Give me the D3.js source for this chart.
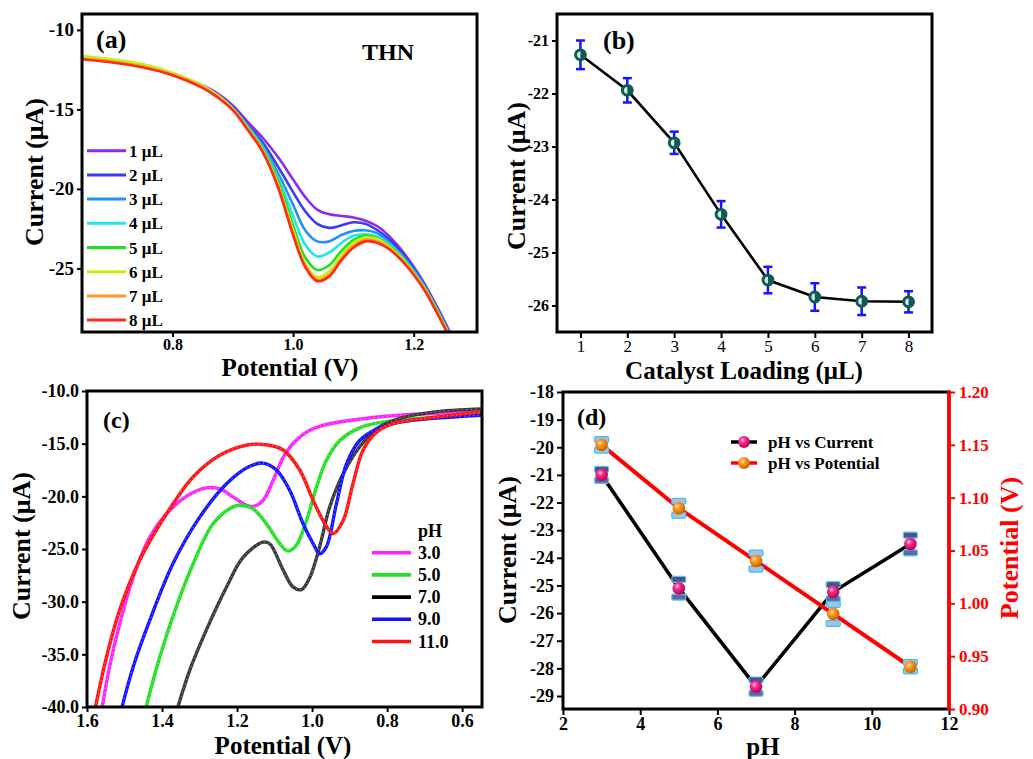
<!DOCTYPE html>
<html><head><meta charset="utf-8">
<script src="https://cdn.jsdelivr.net/npm/d3@7"></script>
<style>
body{margin:0;background:#fff}
svg{display:block}
text{font-family:"Liberation Serif","Times New Roman",serif;}
</style>
</head><body>
<svg id="chart" width="1033" height="759"></svg>
<script>
// ---------- Panel (a): THN, catalyst loading curves ----------
const thnPotential = [0.65,0.70,0.75,0.80,0.85,0.875,0.90,0.925,0.95,0.975,1.00,1.02,1.04,1.06,1.08,1.10,1.12,1.14,1.16,1.18,1.20,1.22,1.24,1.26];
const thn1 = [-11.75,-11.95,-12.25,-12.75,-13.5,-14.0,-14.75,-15.8,-16.8,-18.0,-19.4,-20.5,-21.3,-21.6,-21.7,-21.8,-22.0,-22.35,-23.0,-23.85,-24.9,-26.1,-27.5,-29.0];
const thn2 = [-11.75,-11.95,-12.25,-12.75,-13.55,-14.1,-14.85,-16.0,-17.1,-18.6,-20.2,-21.4,-22.2,-22.45,-22.3,-22.1,-22.2,-22.6,-23.2,-24.0,-25.0,-26.2,-27.6,-29.1];
const thn3 = [-11.75,-11.95,-12.25,-12.75,-13.55,-14.15,-14.9,-16.05,-17.3,-19.0,-21.0,-22.6,-23.3,-23.3,-22.9,-22.65,-22.6,-22.8,-23.4,-24.15,-25.1,-26.25,-27.65,-29.15];
const thn4 = [-11.75,-11.95,-12.25,-12.75,-13.55,-14.15,-14.95,-16.1,-17.4,-19.3,-21.7,-23.5,-24.25,-24.0,-23.4,-22.95,-22.85,-23.0,-23.5,-24.25,-25.2,-26.3,-27.7,-29.2];
const thn5 = [-11.7,-11.9,-12.2,-12.75,-13.55,-14.15,-14.95,-16.15,-17.5,-19.5,-22.3,-24.3,-25.1,-24.8,-23.9,-23.2,-22.95,-23.1,-23.6,-24.3,-25.25,-26.35,-27.75,-29.25];
const thn6 = [-11.65,-11.85,-12.15,-12.7,-13.5,-14.1,-14.95,-16.2,-17.6,-19.7,-22.6,-24.7,-25.55,-25.2,-24.2,-23.4,-23.05,-23.15,-23.65,-24.35,-25.3,-26.4,-27.8,-29.3];
const thn7 = [-11.8,-12.0,-12.3,-12.8,-13.6,-14.2,-15.0,-16.25,-17.65,-19.8,-22.8,-24.8,-25.7,-25.4,-24.4,-23.6,-23.2,-23.3,-23.75,-24.45,-25.35,-26.45,-27.85,-29.35];
const thn8 = [-11.85,-12.05,-12.35,-12.85,-13.65,-14.25,-15.05,-16.3,-17.7,-19.9,-22.9,-24.9,-25.8,-25.5,-24.5,-23.7,-23.3,-23.4,-23.8,-24.5,-25.4,-26.5,-27.9,-29.4];
const loadingLabels = ["1 \u03bcL","2 \u03bcL","3 \u03bcL","4 \u03bcL","5 \u03bcL","6 \u03bcL","7 \u03bcL","8 \u03bcL"];
const loadingColors = ["#8a2cf0","#3b3bf2","#2192f5","#22e6e6","#1ee01e","#c8ee10","#ff9a26","#ff2a1a"];
const aYTicks = [-10,-15,-20,-25];
const aXTicks = [0.8,1.0,1.2];

// ---------- Panel (b): catalyst loading ----------
const loading = [1,2,3,4,5,6,7,8];
const loadingCurrent = [-21.27,-21.94,-22.93,-24.28,-25.52,-25.84,-25.92,-25.93];
const loadingError = [0.27,0.23,0.21,0.25,0.25,0.26,0.26,0.20];
const bYTicks = [-21,-22,-23,-24,-25,-26];

// ---------- Panel (c): pH curves ----------
const ph3Potential = [1.565,1.54,1.513,1.477,1.433,1.388,1.335,1.282,1.246,1.211,1.175,1.157,1.131,1.104,1.077,1.051,1.015,0.98,0.9,0.766,0.548];
const ph3Current = [-41.2,-36.2,-32.1,-27.7,-23.9,-21.65,-20.0,-19.2,-19.3,-20.05,-20.85,-20.95,-20.4,-18.5,-16.3,-15.0,-13.9,-13.35,-12.8,-12.3,-12.0];
const ph5Potential = [1.452,1.406,1.362,1.317,1.264,1.211,1.193,1.157,1.122,1.086,1.064,1.042,1.015,0.988,0.962,0.926,0.873,0.811,0.677,0.548];
const ph5Current = [-41.3,-35.25,-30.5,-26.4,-22.6,-21.0,-20.85,-21.2,-22.6,-24.5,-25.2,-24.65,-22.3,-19.1,-16.6,-14.7,-13.5,-12.95,-12.5,-12.2];
const ph7Potential = [1.367,1.326,1.282,1.228,1.184,1.131,1.113,1.077,1.051,1.028,1.006,0.98,0.953,0.917,0.873,0.828,0.766,0.677,0.548];
const ph7Current = [-41.1,-36.5,-32.7,-28.6,-25.8,-24.35,-24.5,-27.0,-28.6,-28.85,-27.7,-24.8,-21.0,-17.85,-15.3,-13.6,-12.6,-12.0,-11.7];
const ph9Potential = [1.516,1.477,1.433,1.371,1.3,1.228,1.166,1.131,1.095,1.06,1.024,0.997,0.98,0.962,0.935,0.908,0.873,0.828,0.766,0.548];
const ph9Current = [-41.3,-36.2,-31.8,-26.4,-22.0,-18.8,-17.15,-16.85,-17.5,-19.4,-22.6,-24.5,-25.45,-24.8,-20.7,-16.9,-14.7,-13.6,-12.95,-12.3];
const ph11Potential = [1.585,1.548,1.513,1.46,1.388,1.317,1.246,1.175,1.122,1.077,1.033,0.997,0.966,0.944,0.917,0.891,0.864,0.828,0.784,0.677,0.548];
const ph11Current = [-41.3,-35.25,-30.8,-26.1,-21.65,-18.15,-16.1,-15.15,-15.1,-15.6,-17.5,-20.4,-22.6,-23.55,-22.3,-18.8,-15.6,-13.9,-13.1,-12.5,-12.0];
const phLabels = ["3.0","5.0","7.0","9.0","11.0"];
const phColors = ["#ff22ff","#22e022","#222222","#1414ff","#ff1414"];
const cYTicks = [-10,-15,-20,-25,-30,-35,-40];
const cXTicks = [1.6,1.4,1.2,1.0,0.8,0.6];

// ---------- Panel (d): pH dependence ----------
const phValues = [3,5,7,9,11];
const phPeakCurrent = [-21.0,-25.1,-28.66,-25.23,-23.5];
const phCurrentError = [0.2,0.32,0.24,0.26,0.32];
const phPeakPotential = [1.150,1.090,1.040,0.990,0.940];
const phPotentialError = [0.005,0.0066,0.0076,0.009,0.004];
const dYTicks = [-18,-19,-20,-21,-22,-23,-24,-25,-26,-27,-28,-29];
const dY2Ticks = [0.90,0.95,1.00,1.05,1.10,1.15,1.20];
const dXTicks = [2,4,6,8,10,12];

// ---------- helpers ----------
const svg = d3.select("#chart");
const defs = svg.append("defs");
const hy = f => d => d3.format(f)(d).replace("\u2212","-");

function addClip(id, b){
  defs.append("clipPath").attr("id",id).append("rect")
    .attr("x",b.l).attr("y",b.t).attr("width",b.r-b.l).attr("height",b.b-b.t);
}
function frame(b){
  svg.append("rect").attr("x",b.l).attr("y",b.t).attr("width",b.r-b.l).attr("height",b.b-b.t)
    .attr("fill","none").attr("stroke","#000").attr("stroke-width",3);
}
function styleAxis(g, size, bold, color){
  g.select(".domain").remove();
  g.selectAll(".tick line").attr("stroke",color||"#000").attr("stroke-width",2);
  g.selectAll(".tick text").attr("fill",color||"#000").attr("font-size",size)
    .attr("font-weight",bold?"bold":"normal")
    .attr("font-family","'Liberation Serif','Times New Roman',serif");
}
function title(txt, x, y, size, rot, color){
  const t = svg.append("text").attr("font-size",size).attr("font-weight","bold")
    .attr("fill",color||"#000").attr("text-anchor","middle").text(txt);
  if(rot){ t.attr("transform",`translate(${x},${y}) rotate(-90)`).attr("dy","0.32em"); }
  else { t.attr("x",x).attr("y",y); }
  return t;
}
const curve = d3.curveCatmullRom.alpha(0.5);

// ================= Panel (a) =================
{
  const b = {l:82,r:477,t:14,b:332};
  const x = d3.scaleLinear().domain([0.65,1.305]).range([b.l,b.r]);
  const y = d3.scaleLinear().domain([-29,-9]).range([b.b,b.t]);
  addClip("clipA",b);
  const series = [thn1,thn2,thn3,thn4,thn5,thn6,thn7,thn8];
  const line = d3.line().x(d=>x(d[0])).y(d=>y(d[1])).curve(curve);
  const g = svg.append("g").attr("clip-path","url(#clipA)");
  series.forEach((s,i)=>{
    g.append("path").datum(thnPotential.map((p,j)=>[p,s[j]]))
      .attr("d",line).attr("fill","none").attr("stroke",loadingColors[i]).attr("stroke-width",2.6);
  });
  styleAxis(svg.append("g").attr("transform",`translate(${b.l},0)`)
    .call(d3.axisLeft(y).tickValues(aYTicks).tickSize(5).tickPadding(3).tickFormat(hy("d"))),19,true);
  styleAxis(svg.append("g").attr("transform",`translate(0,${b.b})`)
    .call(d3.axisBottom(x).tickValues(aXTicks).tickSize(5).tickPadding(2).tickFormat(hy(".1f"))),16,true);
  frame(b);
  // legend
  const lg = svg.append("g");
  loadingLabels.forEach((lab,i)=>{
    const yy = 150.7 + i*24.2;
    lg.append("line").attr("x1",87).attr("x2",126).attr("y1",yy).attr("y2",yy)
      .attr("stroke",loadingColors[i]).attr("stroke-width",3);
    lg.append("text").attr("x",129).attr("y",yy+6).attr("font-size",17).attr("font-weight","bold").text(lab);
  });
  svg.append("text").attr("x",96).attr("y",48).attr("font-size",26).attr("font-weight","bold").text("(a)");
  svg.append("text").attr("x",362).attr("y",60).attr("font-size",24).attr("font-weight","bold").text("THN");
  title("Current (\u03bcA)",35,172,26,true);
  title("Potential (V)",290,376,25,false);
}

// ================= Panel (b) =================
{
  const b = {l:557,r:932,t:14,b:332};
  const x = d3.scaleLinear().domain([0.5,8.5]).range([b.l,b.r]);
  const y = d3.scaleLinear().domain([-26.5,-20.5]).range([b.b,b.t]);
  styleAxis(svg.append("g").attr("transform",`translate(${b.l},0)`)
    .call(d3.axisLeft(y).tickValues(bYTicks).tickSize(5).tickPadding(3).tickFormat(hy("d"))),16,true);
  styleAxis(svg.append("g").attr("transform",`translate(0,${b.b})`)
    .call(d3.axisBottom(x).tickValues(loading).tickSize(6).tickPadding(2).tickFormat(d3.format("d"))),17,false);
  frame(b);
  const pts = loading.map((l,i)=>({x:l,y:loadingCurrent[i],e:loadingError[i]}));
  svg.append("path").datum(pts).attr("d",d3.line().x(d=>x(d.x)).y(d=>y(d.y)))
    .attr("fill","none").attr("stroke","#000").attr("stroke-width",2.6);
  const eb = svg.append("g").attr("stroke","#1414ff").attr("stroke-width",2.5);
  pts.forEach(d=>{
    eb.append("line").attr("x1",x(d.x)).attr("x2",x(d.x)).attr("y1",y(d.y+d.e)).attr("y2",y(d.y-d.e));
    eb.append("line").attr("x1",x(d.x)-4.5).attr("x2",x(d.x)+4.5).attr("y1",y(d.y+d.e)).attr("y2",y(d.y+d.e));
    eb.append("line").attr("x1",x(d.x)-4.5).attr("x2",x(d.x)+4.5).attr("y1",y(d.y-d.e)).attr("y2",y(d.y-d.e));
  });
  const mk = svg.append("g");
  pts.forEach(d=>{
    mk.append("circle").attr("cx",x(d.x)).attr("cy",y(d.y)).attr("r",5.8)
      .attr("fill","#0d5c52").attr("stroke","#0d5c52").attr("stroke-width",1.2);
    const r = 3.4, cx = x(d.x), cy = y(d.y);
    mk.append("path").attr("d",`M${cx},${cy-r} A${r},${r} 0 0 0 ${cx},${cy+r} Z`).attr("fill","#ffffff").attr("opacity",0.85);
  });
  svg.append("text").attr("x",603).attr("y",49).attr("font-size",26).attr("font-weight","bold").text("(b)");
  title("Current (\u03bcA)",517,176,26,true);
  title("Catalyst Loading (\u03bcL)",744,379,25,false);
}

// ================= Panel (c) =================
{
  const b = {l:87,r:482,t:391,b:707};
  const x = d3.scaleLinear().domain([1.6,0.547]).range([b.l,b.r]);
  const y = d3.scaleLinear().domain([-40,-10]).range([b.b,b.t]);
  addClip("clipC",b);
  const px = [ph3Potential,ph5Potential,ph7Potential,ph9Potential,ph11Potential];
  const py = [ph3Current,ph5Current,ph7Current,ph9Current,ph11Current];
  const line = d3.line().x(d=>x(d[0])).y(d=>y(d[1])).curve(curve);
  const g = svg.append("g").attr("clip-path","url(#clipC)");
  px.forEach((xs,i)=>{
    const data = xs.map((p,j)=>[p,py[i][j]]);
    g.append("path").datum(data).attr("d",line).attr("fill","none")
      .attr("stroke",i===2?"#3a3a3a":phColors[i]).attr("stroke-width",3.4);
    g.append("path").datum(data).attr("d",line).attr("fill","none")
      .attr("stroke","#ffffff").attr("stroke-width",1).attr("stroke-dasharray","1 3.5").attr("opacity",0.55);
  });
  styleAxis(svg.append("g").attr("transform",`translate(${b.l},0)`)
    .call(d3.axisLeft(y).tickValues(cYTicks).tickSize(5).tickPadding(3).tickFormat(hy(".1f"))),18,true);
  styleAxis(svg.append("g").attr("transform",`translate(0,${b.b})`)
    .call(d3.axisBottom(x).tickValues(cXTicks).tickSize(5).tickPadding(2).tickFormat(hy(".1f"))),18,true);
  frame(b);
  const lg = svg.append("g");
  lg.append("text").attr("x",418).attr("y",537).attr("font-size",18).attr("font-weight","bold").text("pH");
  phLabels.forEach((lab,i)=>{
    const yy = 552.7 + i*22.2;
    lg.append("line").attr("x1",372).attr("x2",411).attr("y1",yy).attr("y2",yy)
      .attr("stroke",i===2?"#000":phColors[i]).attr("stroke-width",3.6);
    lg.append("text").attr("x",418).attr("y",yy+6).attr("font-size",18).attr("font-weight","bold").text(lab);
  });
  svg.append("text").attr("x",103).attr("y",428).attr("font-size",24).attr("font-weight","bold").text("(c)");
  title("Current  (\u03bcA)",22,546,26,true);
  title("Potential (V)",283,754,25,false);
}

// ================= Panel (d) =================
{
  const b = {l:563,r:949,t:392,b:709};
  const x = d3.scaleLinear().domain([2,12]).range([b.l,b.r]);
  const y = d3.scaleLinear().domain([-29.47,-18]).range([b.b,b.t]);
  const y2 = d3.scaleLinear().domain([0.9,1.2]).range([b.b,b.t]);

  const gp = defs.append("radialGradient").attr("id","gPink").attr("cx","38%").attr("cy","35%").attr("r","65%");
  gp.append("stop").attr("offset","0%").attr("stop-color","#ffd6ea");
  gp.append("stop").attr("offset","35%").attr("stop-color","#ff2a8c");
  gp.append("stop").attr("offset","100%").attr("stop-color","#b4005c");
  const go = defs.append("radialGradient").attr("id","gOrange").attr("cx","38%").attr("cy","35%").attr("r","65%");
  go.append("stop").attr("offset","0%").attr("stop-color","#ffe2b8");
  go.append("stop").attr("offset","35%").attr("stop-color","#ff9a22");
  go.append("stop").attr("offset","100%").attr("stop-color","#c46400");

  styleAxis(svg.append("g").attr("transform",`translate(${b.l},0)`)
    .call(d3.axisLeft(y).tickValues(dYTicks).tickSize(6).tickPadding(3).tickFormat(hy("d"))),18,true);
  styleAxis(svg.append("g").attr("transform",`translate(${b.r},0)`)
    .call(d3.axisRight(y2).tickValues(dY2Ticks).tickSize(6).tickPadding(4).tickFormat(hy(".2f"))),17,true,"#ff0000");
  styleAxis(svg.append("g").attr("transform",`translate(0,${b.b})`)
    .call(d3.axisBottom(x).tickValues(dXTicks).tickSize(6).tickPadding(2).tickFormat(d3.format("d"))),18,true);
  frame(b);
  svg.append("line").attr("x1",b.r).attr("x2",b.r).attr("y1",b.t-1.5).attr("y2",b.b+1.5)
    .attr("stroke","#ff0000").attr("stroke-width",3.5);

  const cur = phValues.map((p,i)=>({x:p,y:phPeakCurrent[i],e:phCurrentError[i]}));
  const pot = phValues.map((p,i)=>({x:p,y:phPeakPotential[i],e:phPotentialError[i]}));
  svg.append("path").datum(cur).attr("d",d3.line().x(d=>x(d.x)).y(d=>y(d.y)))
    .attr("fill","none").attr("stroke","#000").attr("stroke-width",3.6);
  svg.append("path").datum(pot).attr("d",d3.line().x(d=>x(d.x)).y(d=>y2(d.y)))
    .attr("fill","none").attr("stroke","#ff0000").attr("stroke-width",4);

  function errBars(data, sc, topFill, botFill, strokeC){
    const g = svg.append("g");
    data.forEach(d=>{
      const cx = x(d.x), yt = sc(d.y+d.e), yb = sc(d.y-d.e);
      g.append("line").attr("x1",cx).attr("x2",cx).attr("y1",yt).attr("y2",yb).attr("stroke","#555").attr("stroke-width",1.5);
      g.append("rect").attr("x",cx-7).attr("y",yt-3).attr("width",14).attr("height",6).attr("rx",1.5)
        .attr("fill",topFill).attr("stroke",strokeC).attr("stroke-width",1.2);
      g.append("rect").attr("x",cx-7).attr("y",yb-3).attr("width",14).attr("height",6).attr("rx",1.5)
        .attr("fill",botFill).attr("stroke",strokeC).attr("stroke-width",1.2);
    });
  }
  errBars(cur, y, "#46568c", "#5a6c9e", "#62bff0");
  errBars(pot, y2, "#aabfe6", "#aabfe6", "#38c0f2");
  pot.forEach(d=>svg.append("circle").attr("cx",x(d.x)).attr("cy",y2(d.y)).attr("r",6.3).attr("fill","url(#gOrange)"));
  cur.forEach(d=>svg.append("circle").attr("cx",x(d.x)).attr("cy",y(d.y)).attr("r",6.3).attr("fill","url(#gPink)"));

  // legend
  const lg = svg.append("g");
  [[442,"#000","url(#gPink)","pH vs Current"],[463,"#ff0000","url(#gOrange)","pH vs Potential"]].forEach(r=>{
    lg.append("line").attr("x1",731).attr("x2",757).attr("y1",r[0]).attr("y2",r[0]).attr("stroke",r[1]).attr("stroke-width",3.5);
    lg.append("circle").attr("cx",744).attr("cy",r[0]).attr("r",6).attr("fill",r[2]);
    lg.append("text").attr("x",768).attr("y",r[0]+6).attr("font-size",17).attr("font-weight","bold").text(r[3]);
  });
  svg.append("text").attr("x",577).attr("y",425).attr("font-size",24).attr("font-weight","bold").text("(d)");
  title("Current (\u03bcA)",508,550,26,true);
  title("pH",763,755,25,false);
  title("Potential (V)",1010,548,26,true,"#ff0000");
}
</script>
</body></html>
